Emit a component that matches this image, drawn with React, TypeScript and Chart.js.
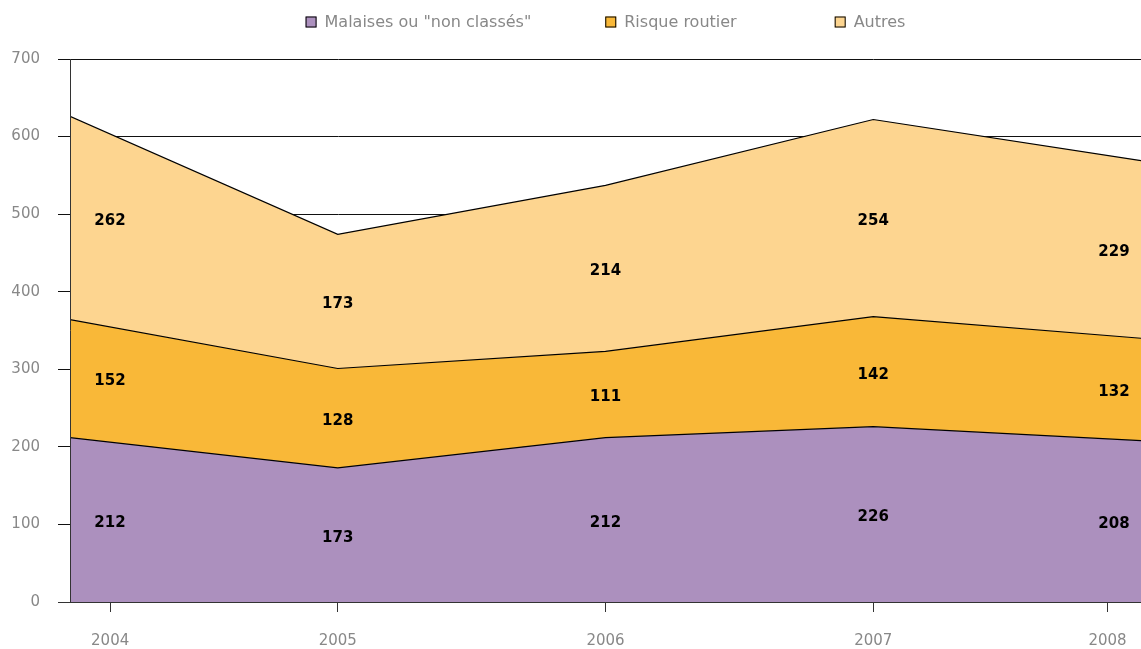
import React, { useEffect, useRef } from "react";
import { Chart, registerables } from "chart.js";

Chart.register(...registerables);

const years = ["2004", "2005", "2006", "2007", "2008"];
const malaises = [212, 173, 212, 226, 208];
const risqueRoutier = [152, 128, 111, 142, 132];
const autres = [262, 173, 214, 254, 229];
const yTicks = [0, 100, 200, 300, 400, 500, 600, 700];

const seriesNames = ['Malaises ou "non classés"', "Risque routier", "Autres"];
const seriesValues = [malaises, risqueRoutier, autres];
const seriesColors = ["#AC90BE", "#F9B838", "#FDD590"];

const FONT = "'DejaVu Sans', sans-serif";

const customLegend = {
  id: "customLegend",
  afterDraw(chart: any) {
    const ctx = chart.ctx;
    const area = chart.chartArea;
    ctx.save();
    ctx.font = `16px ${FONT}`;
    const box = 11;
    const gapText = 8;
    const gaps = [74, 98];
    const widths = seriesNames.map((n) => box + gapText + ctx.measureText(n).width);
    const total = widths.reduce((a, b) => a + b, 0) + gaps.reduce((a, b) => a + b, 0);
    let x = (area.left + area.right) / 2 - total / 2;
    const y = 22;
    ctx.textBaseline = "middle";
    ctx.textAlign = "left";
    seriesNames.forEach((n, i) => {
      ctx.fillStyle = seriesColors[i];
      ctx.fillRect(x, y - box / 2, box, box);
      ctx.strokeStyle = "#000";
      ctx.lineWidth = 1;
      ctx.strokeRect(x + 0.5, y - box / 2 + 0.5, box - 1, box - 1);
      ctx.fillStyle = "#888";
      ctx.fillText(n, x + box + gapText, y + 1);
      x += widths[i] + (gaps[i] || 0);
    });
    ctx.restore();
  },
};

const axesOnTop = {
  id: "axesOnTop",
  afterDatasetsDraw(chart: any) {
    const ctx = chart.ctx;
    const a = chart.chartArea;
    ctx.save();
    ctx.strokeStyle = "#333";
    ctx.lineWidth = 1;
    ctx.beginPath();
    ctx.moveTo(Math.round(a.left) + 0.5, a.top);
    ctx.lineTo(Math.round(a.left) + 0.5, a.bottom);
    ctx.moveTo(a.left - 12, Math.round(a.bottom) + 0.5);
    ctx.lineTo(a.right, Math.round(a.bottom) + 0.5);
    ctx.stroke();
    ctx.restore();
  },
};

const valueLabels = {
  id: "valueLabels",
  afterDatasetsDraw(chart: any) {
    const ctx = chart.ctx;
    const xs = chart.scales.x;
    const ys = chart.scales.y;
    const area = chart.chartArea;
    ctx.save();
    ctx.font = `bold 15px ${FONT}`;
    ctx.fillStyle = "#000";
    ctx.textAlign = "center";
    ctx.textBaseline = "middle";
    const base = years.map(() => 0);
    seriesValues.forEach((vals) => {
      vals.forEach((v, j) => {
        const mid = base[j] + v / 2;
        base[j] += v;
        let x = xs.getPixelForValue(j);
        x = Math.max(area.left + 40, Math.min(area.right - 27, x));
        ctx.fillText(String(v), x, ys.getPixelForValue(mid) + 3);
      });
    });
    ctx.restore();
  },
};

export default function App() {
  const ref = useRef<HTMLCanvasElement>(null);
  useEffect(() => {
    document.body.style.margin = "0";
    const chart = new Chart(ref.current!, {
      type: "line",
      data: {
        labels: years,
        datasets: seriesValues.map((vals, i) => ({
          label: seriesNames[i],
          data: vals.map((v, j) => ({ x: j, y: v })),
          backgroundColor: seriesColors[i],
          borderColor: "#000",
          borderWidth: 1.2,
          fill: i === 0 ? "origin" : "-1",
          pointRadius: 0,
          tension: 0,
        })) as any,
      },
      options: {
        animation: false,
        responsive: true,
        maintainAspectRatio: false,
        layout: { padding: { top: 59, right: 0, left: 0, bottom: 0 } },
        plugins: {
          legend: { display: false },
          tooltip: { enabled: false },
        },
        scales: {
          x: {
            type: "linear",
            min: 0,
            max: years.length - 1,
            afterBuildTicks(scale: any) {
              const n = years.length - 1;
              scale.ticks = years.map((_, i) => ({
                value: i === 0 ? 0.15 : i === n ? n - 0.125 : i,
              }));
            },
            afterFit(scale: any) {
              scale.height = 47;
              scale.paddingLeft = 0;
              scale.paddingRight = 0;
            },
            grid: {
              drawOnChartArea: false,
              color: "#333",
              tickLength: 10,
            },
            border: { color: "#333", width: 1 },
            ticks: {
              color: "#888",
              padding: 20,
              maxRotation: 0,
              autoSkip: false,
              font: { family: FONT, size: 15 },
              callback(_v: any, idx: number) {
                return years[idx];
              },
            },
          },
          y: {
            stacked: true,
            min: 0,
            max: 700,
            afterBuildTicks(scale: any) {
              scale.ticks = yTicks.map((v) => ({ value: v }));
            },
            afterFit(scale: any) {
              scale.width = 70;
              scale.paddingTop = 0;
              scale.paddingBottom = 0;
            },
            grid: { color: "#111", tickLength: 12 },
            border: { color: "#333", width: 1 },
            ticks: {
              color: "#888",
              padding: 18,
              font: { family: FONT, size: 15 },
            },
          },
        },
      },
      plugins: [axesOnTop, valueLabels, customLegend],
    });
    return () => chart.destroy();
  }, []);
  return (
    <div style={{ position: "fixed", left: 0, top: 0, width: 1141, height: 649 }}>
      <canvas ref={ref} />
    </div>
  );
}
